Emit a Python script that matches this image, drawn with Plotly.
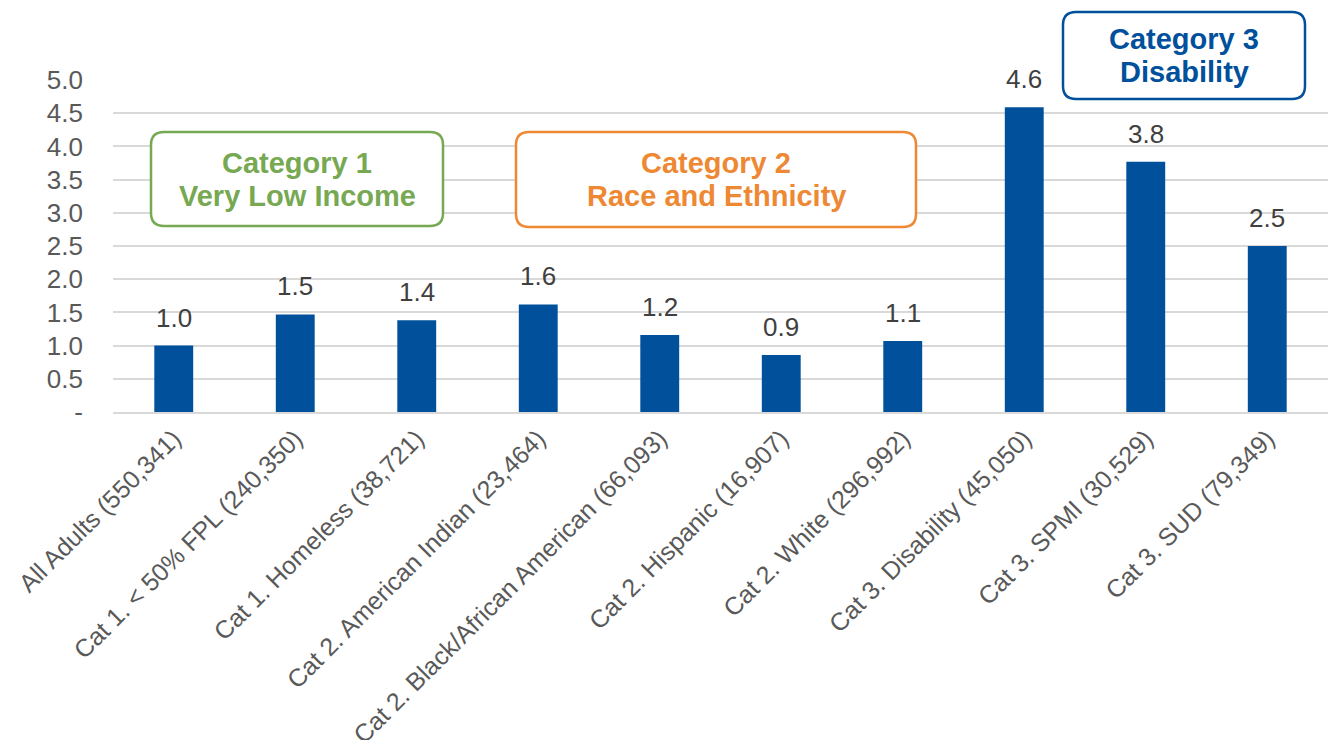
import plotly.graph_objects as go

categories = [
    "All Adults (550,341)",
    "Cat 1. < 50% FPL (240,350)",
    "Cat 1. Homeless (38,721)",
    "Cat 2. American Indian (23,464)",
    "Cat 2. Black/African American (66,093)",
    "Cat 2. Hispanic (16,907)",
    "Cat 2. White (296,992)",
    "Cat 3. Disability (45,050)",
    "Cat 3. SPMI (30,529)",
    "Cat 3. SUD (79,349)",
]
values = [1.0, 1.47, 1.38, 1.62, 1.16, 0.86, 1.07, 4.59, 3.77, 2.5]
y_tickvals = [0, 0.5, 1.0, 1.5, 2.0, 2.5, 3.0, 3.5, 4.0, 4.5, 5.0]
y_ticktext = ["-", "0.5", "1.0", "1.5", "2.0", "2.5", "3.0", "3.5", "4.0", "4.5", "5.0"]

FONT = "Liberation Sans, Arial, sans-serif"
BAR = "#00509B"

W, H = 1328, 740
ML, MR, MT, MB = 113, 0, 80, 328
PW = W - ML - MR
PH = H - MT - MB

fig = go.Figure()
fig.add_trace(go.Bar(x=categories, y=values, marker_color=BAR,
                     marker_line_width=0, width=0.32, hoverinfo="skip"))

for c, v in zip(categories, values):
    fig.add_annotation(x=c, y=v, text=f"{v:.1f}", showarrow=False,
                       yanchor="bottom", yshift=11,
                       font=dict(family=FONT, size=26, color="#404040"))


def px2paper(x, y):
    return (x - ML) / PW, (MT + PH - y) / PH


def rounded_box(x0, y0, x1, y1, r=13):
    rx, ry = r / PW, r / PH
    X0, Y1 = px2paper(x0, y0)  # top-left
    X1, Y0 = px2paper(x1, y1)  # bottom-right
    p = (f"M {X0+rx},{Y1} L {X1-rx},{Y1} Q {X1},{Y1} {X1},{Y1-ry} "
         f"L {X1},{Y0+ry} Q {X1},{Y0} {X1-rx},{Y0} "
         f"L {X0+rx},{Y0} Q {X0},{Y0} {X0},{Y0+ry} "
         f"L {X0},{Y1-ry} Q {X0},{Y1} {X0+rx},{Y1} Z")
    return p


boxes = [
    (151, 132, 443, 226, "#77A852", "Category 1", "Very Low Income"),
    (516, 132, 916, 227, "#EE8833", "Category 2", "Race and Ethnicity"),
    (1063, 12, 1305, 99, "#00509B", "Category 3", "Disability"),
]
for x0, y0, x1, y1, col, l1, l2 in boxes:
    fig.add_shape(type="path", path=rounded_box(x0, y0, x1, y1),
                  xref="paper", yref="paper",
                  line=dict(color=col, width=2.5), fillcolor="white", layer="above")
    cxp = (x0 + x1) / 2
    cyp = (y0 + y1) / 2
    for txt, dy in ((l1, -16.5), (l2, 16.5)):
        ax, ay = px2paper(cxp, cyp + dy)
        fig.add_annotation(x=ax, y=ay, xref="paper", yref="paper",
                           text=f"<b>{txt}</b>", showarrow=False,
                           xanchor="center", yanchor="middle",
                           font=dict(family=FONT, size=29, color=col))

fig.update_layout(
    width=W, height=H,
    margin=dict(l=ML, r=MR, t=MT, b=MB),
    paper_bgcolor="white", plot_bgcolor="white",
    showlegend=False,
    font=dict(family=FONT, color="#595959"),
    xaxis=dict(tickangle=-45, tickfont=dict(family=FONT, size=25, color="#595959"),
               showgrid=False, showline=True, linecolor="#D9D9D9", linewidth=2,
               ticks="", automargin=False),
    yaxis=dict(range=[0, 5], tickvals=y_tickvals, ticktext=y_ticktext,
               tickfont=dict(family=FONT, size=26, color="#595959"),
               showgrid=True, gridcolor="#D9D9D9", gridwidth=1.5,
               zeroline=False, showline=False, ticks="",
               ticklabelstandoff=29, automargin=False),
)

fig.write_html("out.html")
